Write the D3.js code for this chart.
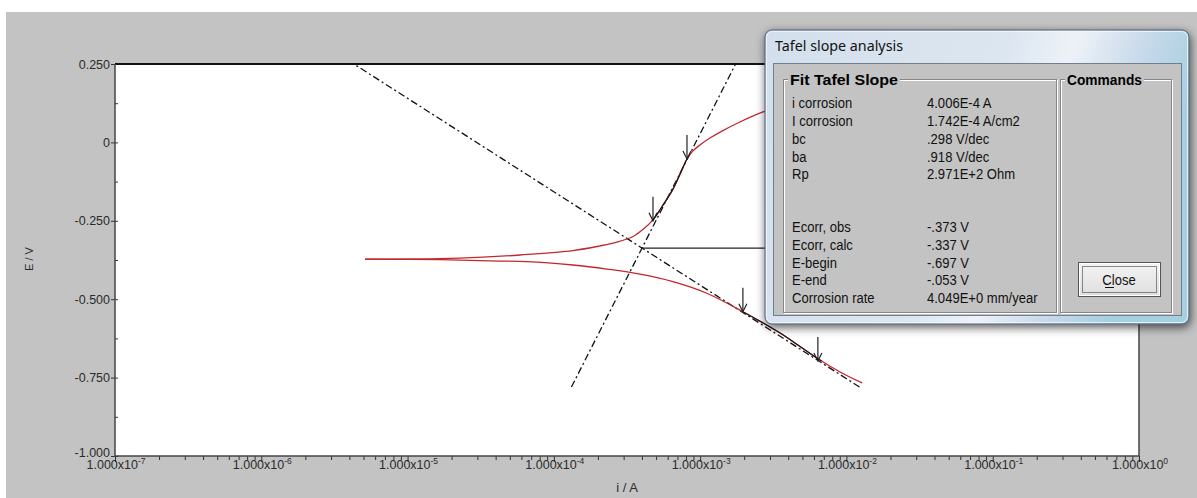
<!DOCTYPE html>
<html>
<head>
<meta charset="utf-8">
<script src="https://cdn.jsdelivr.net/npm/d3@7"></script>
<style>
  html, body { margin: 0; padding: 0; background: #ffffff; }
  svg { display: block; }
</style>
</head>
<body>
<svg id="chart" width="1197" height="498"></svg>
<script>
// Polarisation scan, anodic branch: current (A) and potential (V)
const anodicI = [5.12e-6, 1.66e-5, 3.28e-5, 5.87e-5, 1.35e-4, 2.07e-4, 2.70e-4, 3.48e-4, 4.06e-4,
                 4.76e-4, 5.57e-4, 6.52e-4, 7.40e-4, 8.13e-4, 8.93e-4, 9.98e-4, 1.167e-3,
                 1.409e-3, 1.87e-3, 2.69e-3, 3.5e-3];
const anodicE = [-0.372, -0.371, -0.366, -0.359, -0.345, -0.330, -0.318, -0.300, -0.278,
                 -0.247, -0.200, -0.149, -0.094, -0.053, -0.027, -0.008, 0.014,
                 0.036, 0.065, 0.097, 0.115];

// Polarisation scan, cathodic branch
const cathodicI = [5.12e-6, 1.66e-5, 3.66e-5, 6.55e-5, 1.35e-4, 2.31e-4, 3.88e-4, 6.52e-4,
                   1.11e-3, 1.96e-3, 3.52e-3, 4.82e-3, 6.59e-3, 9.04e-3, 1.28e-2];
const cathodicE = [-0.372, -0.374, -0.378, -0.380, -0.391, -0.404, -0.420, -0.444,
                   -0.481, -0.540, -0.608, -0.651, -0.694, -0.732, -0.767];

// Tafel fit results
const iCorr = 4.006e-4;
const eCorrCalc = -0.337;
const bc = 0.298;
const ba = 0.918;
const tafelRangeE = [-0.78, 0.25];

// Fit window markers (potential, current on the curve)
const markerE = [-0.697, -0.540, -0.250, -0.053];
const markerI = [6.38e-3, 1.96e-3, 4.76e-4, 8.13e-4];
const cathodicWindow = [-0.697, -0.540];
const anodicWindow = [-0.250, -0.053];

// Axis ticks
const xTickExp = [-7, -6, -5, -4, -3, -2, -1, 0];
const yTicks = [0.25, 0, -0.25, -0.5, -0.75, -1];
const yTickLabels = ["0.250", "0", "-0.250", "-0.500", "-0.750", "-1.000"];
const yMinorTicks = [0.125, -0.125, -0.375, -0.625, -0.875];

// Dialog text
const fitLabels = ["i corrosion", "I corrosion", "bc", "ba", "Rp"];
const fitValues = ["4.006E-4  A", "1.742E-4  A/cm2", ".298 V/dec", ".918 V/dec", "2.971E+2 Ohm"];
const potLabels = ["Ecorr, obs", "Ecorr, calc", "E-begin", "E-end", "Corrosion rate"];
const potValues = ["-.373  V", "-.337 V", "-.697 V", "-.053 V", "4.049E+0 mm/year"];

const svg = d3.select("#chart");
const W = 1197, H = 498;
const plot = { left: 115, right: 1139, top: 64, bottom: 456 };
const FONT = "'Liberation Sans', Arial, sans-serif";

const x = d3.scaleLog().domain([1e-7, 1]).range([plot.left, plot.right]);
const y = d3.scaleLinear().domain([-1, 0.25]).range([plot.bottom, plot.top]);

const defs = svg.append("defs");
defs.append("clipPath").attr("id", "plotClip").append("rect")
  .attr("x", plot.left).attr("y", plot.top)
  .attr("width", plot.right - plot.left).attr("height", plot.bottom - plot.top);
defs.append("clipPath").attr("id", "cathWin").append("rect")
  .attr("x", plot.left).attr("width", plot.right - plot.left)
  .attr("y", y(cathodicWindow[1])).attr("height", y(cathodicWindow[0]) - y(cathodicWindow[1]));
defs.append("clipPath").attr("id", "anodWin").append("rect")
  .attr("x", plot.left).attr("width", plot.right - plot.left)
  .attr("y", y(anodicWindow[1])).attr("height", y(anodicWindow[0]) - y(anodicWindow[1]));

const shadow = defs.append("filter").attr("id", "winShadow")
  .attr("x", "-10%").attr("y", "-15%").attr("width", "125%").attr("height", "135%");
shadow.append("feDropShadow").attr("dx", 1).attr("dy", 3).attr("stdDeviation", 5)
  .attr("flood-color", "#000").attr("flood-opacity", 0.65);

const glass = defs.append("linearGradient").attr("id", "glass")
  .attr("x1", 0).attr("y1", 0).attr("x2", 1).attr("y2", 0.25);
glass.append("stop").attr("offset", "0").attr("stop-color", "#d3dfec");
glass.append("stop").attr("offset", "0.55").attr("stop-color", "#dce6f0");
glass.append("stop").attr("offset", "0.7").attr("stop-color", "#edf2f7");
glass.append("stop").attr("offset", "0.85").attr("stop-color", "#c9daeb");
glass.append("stop").attr("offset", "1").attr("stop-color", "#a6cfe0");

const btnGrad = defs.append("linearGradient").attr("id", "btn")
  .attr("x1", 0).attr("y1", 0).attr("x2", 0).attr("y2", 1);
btnGrad.append("stop").attr("offset", "0").attr("stop-color", "#f4f4f4");
btnGrad.append("stop").attr("offset", "1").attr("stop-color", "#dedede");

// Window background
svg.append("rect").attr("x", 6).attr("y", 12).attr("width", W - 6).attr("height", H - 12)
  .attr("fill", "#c3c3c3");

// Plot area
svg.append("rect").attr("x", plot.left).attr("y", plot.top)
  .attr("width", plot.right - plot.left).attr("height", plot.bottom - plot.top)
  .attr("fill", "#ffffff");

// Axes: ticks through d3 axis generators
const xMajor = xTickExp.map(e => Math.pow(10, e));
const xMinor = [];
xTickExp.slice(0, -1).forEach(e => { for (let m = 2; m <= 9; m++) xMinor.push(m * Math.pow(10, e)); });

const axisStyle = g => {
  g.select(".domain").remove();
  g.selectAll(".tick line").attr("stroke", "#333").attr("stroke-width", 1);
  g.selectAll(".tick text").remove();
};
svg.append("g").attr("transform", `translate(0,${plot.bottom})`)
  .call(d3.axisBottom(x).tickValues(xMajor).tickSize(6).tickFormat(""))
  .call(axisStyle);
svg.append("g").attr("transform", `translate(0,${plot.bottom})`)
  .call(d3.axisBottom(x).tickValues(xMinor).tickSize(4).tickFormat(""))
  .call(axisStyle);
svg.append("g").attr("transform", `translate(${plot.left},0)`)
  .call(d3.axisLeft(y).tickValues(yTicks).tickSize(4).tickFormat(""))
  .call(axisStyle);
svg.append("g").attr("transform", `translate(${plot.left},0)`)
  .call(d3.axisRight(y).tickValues(yTicks.concat(yMinorTicks)).tickSize(3).tickFormat(""))
  .call(axisStyle);

// Frame lines
svg.append("line").attr("x1", plot.left).attr("x2", plot.right + 1)
  .attr("y1", plot.top).attr("y2", plot.top).attr("stroke", "#111").attr("stroke-width", 2);
svg.append("line").attr("x1", plot.right).attr("x2", plot.right)
  .attr("y1", plot.top).attr("y2", plot.bottom).attr("stroke", "#444").attr("stroke-width", 1.5);
svg.append("line").attr("x1", plot.left).attr("x2", plot.left)
  .attr("y1", plot.top).attr("y2", plot.bottom + 1).attr("stroke", "#444").attr("stroke-width", 1.5);
svg.append("line").attr("x1", plot.left).attr("x2", plot.right)
  .attr("y1", plot.bottom).attr("y2", plot.bottom).attr("stroke", "#444").attr("stroke-width", 1.5);

// Tick labels
const xl = svg.append("g").attr("font-family", FONT).attr("font-size", 12.5).attr("fill", "#2b2b2b");
xTickExp.forEach(e => {
  const t = xl.append("text").attr("x", x(Math.pow(10, e)) + 1).attr("y", 469).attr("text-anchor", "middle");
  t.append("tspan").text("1.000x10");
  t.append("tspan").attr("dy", -5).attr("font-size", 8.5).text(e);
});
const yl = svg.append("g").attr("font-family", FONT).attr("font-size", 12.5).attr("fill", "#2b2b2b");
yTicks.forEach((v, i) => {
  const off = v === -1 ? 1 : 4.5;
  yl.append("text").attr("x", 110).attr("y", y(v) + off).attr("text-anchor", "end").text(yTickLabels[i]);
});

// Axis titles
svg.append("text").attr("transform", "translate(33,259) rotate(-90)")
  .attr("text-anchor", "middle").attr("font-family", FONT).attr("font-size", 11)
  .attr("fill", "#2b2b2b").text("E / V");
svg.append("text").attr("x", 627).attr("y", 492)
  .attr("text-anchor", "middle").attr("font-family", FONT).attr("font-size", 13)
  .attr("fill", "#2b2b2b").text("i / A");

// Data and fit lines
const marks = svg.append("g").attr("clip-path", "url(#plotClip)");
const line = d3.line().x(d => x(d[0])).y(d => y(d[1])).curve(d3.curveCatmullRom.alpha(0.5));
const anodic = anodicI.map((v, i) => [v, anodicE[i]]);
const cathodic = cathodicI.map((v, i) => [v, cathodicE[i]]);

// Tafel lines: E = Ecorr -/+ b * log10(i / icorr)
const cathLine = tafelRangeE.map(E => [iCorr * Math.pow(10, (eCorrCalc - E) / bc), E]);
const anodLine = tafelRangeE.map(E => [iCorr * Math.pow(10, (E - eCorrCalc) / ba), E]);
const straight = d3.line().x(d => x(d[0])).y(d => y(d[1]));
[cathLine, anodLine].forEach(seg => {
  marks.append("path").attr("d", straight(seg)).attr("fill", "none")
    .attr("stroke", "#111").attr("stroke-width", 1.3).attr("stroke-dasharray", "7,3,2,3");
});

marks.append("path").attr("d", line(cathodic)).attr("fill", "none")
  .attr("stroke", "#c0282d").attr("stroke-width", 1.3);
marks.append("path").attr("d", line(anodic)).attr("fill", "none")
  .attr("stroke", "#c0282d").attr("stroke-width", 1.3);

// Fitted portions highlighted in black
marks.append("path").attr("d", line(cathodic)).attr("fill", "none").attr("clip-path", "url(#cathWin)")
  .attr("stroke", "#1a1a1a").attr("stroke-width", 1.2);
marks.append("path").attr("d", line(anodic)).attr("fill", "none").attr("clip-path", "url(#anodWin)")
  .attr("stroke", "#1a1a1a").attr("stroke-width", 1.2);

// Calculated corrosion potential marker
marks.append("line").attr("x1", x(iCorr)).attr("x2", x(3e-2))
  .attr("y1", y(eCorrCalc)).attr("y2", y(eCorrCalc))
  .attr("stroke", "#222").attr("stroke-width", 1.2);

// Fit window arrows
markerE.forEach((E, i) => {
  const px = x(markerI[i]), py = y(E);
  const a = marks.append("g").attr("stroke", "#222").attr("stroke-width", 1.2).attr("fill", "none");
  a.append("line").attr("x1", px).attr("x2", px).attr("y1", py - 24).attr("y2", py);
  a.append("path").attr("d", `M${px - 4},${py - 8}L${px},${py}L${px + 4},${py - 8}`);
});

// Tafel slope analysis window
const dlg = svg.append("g");
dlg.append("rect").attr("x", 765).attr("y", 30).attr("width", 424).attr("height", 294).attr("rx", 7)
  .attr("fill", "url(#glass)").attr("stroke", "#4a5c70").attr("stroke-width", 1)
  .attr("filter", "url(#winShadow)");
dlg.append("rect").attr("x", 766.5).attr("y", 31.5).attr("width", 421).attr("height", 291).attr("rx", 6)
  .attr("fill", "none").attr("stroke", "#f4f8fb").attr("stroke-opacity", 0.8);
dlg.append("text").attr("x", 775).attr("y", 51).attr("font-family", "'Noto Sans', 'Open Sans', sans-serif")
  .attr("font-size", 15).attr("textLength", 128).attr("lengthAdjust", "spacingAndGlyphs")
  .attr("fill", "#111").text("Tafel slope analysis");

// client area
dlg.append("rect").attr("x", 773.5).attr("y", 63.5).attr("width", 408).attr("height", 252)
  .attr("fill", "#c3c3c3").attr("stroke", "#6f7f90");

// group boxes
function groupBox(x0, y0, w, h, title, titleLen) {
  const g = dlg.append("g");
  g.append("rect").attr("x", x0 + 1.5).attr("y", y0 + 1.5).attr("width", w).attr("height", h)
    .attr("fill", "none").attr("stroke", "#ffffff");
  g.append("rect").attr("x", x0 + 0.5).attr("y", y0 + 0.5).attr("width", w).attr("height", h)
    .attr("fill", "none").attr("stroke", "#868686");
  g.append("rect").attr("x", x0 + 5).attr("y", y0 - 6).attr("width", titleLen + 4).attr("height", 14)
    .attr("fill", "#c3c3c3");
  g.append("text").attr("x", x0 + 7).attr("y", y0 + 6).attr("font-family", FONT)
    .attr("font-weight", "bold").attr("font-size", 15)
    .attr("textLength", titleLen).attr("lengthAdjust", "spacingAndGlyphs")
    .attr("fill", "#000").text(title);
}
groupBox(783, 79, 273, 233, "Fit Tafel Slope", 108);
groupBox(1060, 79, 111, 233, "Commands", 75);

// rows of results
function row(label, value, yy) {
  dlg.append("text").attr("transform", `translate(792,${yy}) scale(0.87,1)`)
    .attr("font-family", FONT).attr("font-size", 15).attr("fill", "#111").text(label);
  dlg.append("text").attr("transform", `translate(927,${yy}) scale(0.87,1)`)
    .attr("font-family", FONT).attr("font-size", 15).attr("fill", "#111").text(value);
}
const rowsTop = [108, 126, 144, 161.5, 179];
const rowsBottom = [232, 250, 267.5, 285, 303];
fitLabels.forEach((l, i) => row(l, fitValues[i], rowsTop[i]));
potLabels.forEach((l, i) => row(l, potValues[i], rowsBottom[i]));

// Close button
dlg.append("rect").attr("x", 1078.5).attr("y", 262.5).attr("width", 82).attr("height", 34)
  .attr("fill", "url(#btn)").attr("stroke", "#555");
dlg.append("rect").attr("x", 1079.5).attr("y", 263.5).attr("width", 80).attr("height", 32)
  .attr("fill", "none").attr("stroke", "#ffffff");
dlg.append("rect").attr("x", 1082.5).attr("y", 266.5).attr("width", 74).attr("height", 26)
  .attr("fill", "none").attr("stroke", "#222").attr("stroke-dasharray", "1,1");
dlg.append("text").attr("transform", "translate(1119,285) scale(0.87,1)").attr("text-anchor", "middle")
  .attr("font-family", FONT).attr("font-size", 15).attr("fill", "#111").text("Close");
dlg.append("line").attr("x1", 1105).attr("x2", 1114).attr("y1", 287.5).attr("y2", 287.5)
  .attr("stroke", "#111");
</script>
</body>
</html>
